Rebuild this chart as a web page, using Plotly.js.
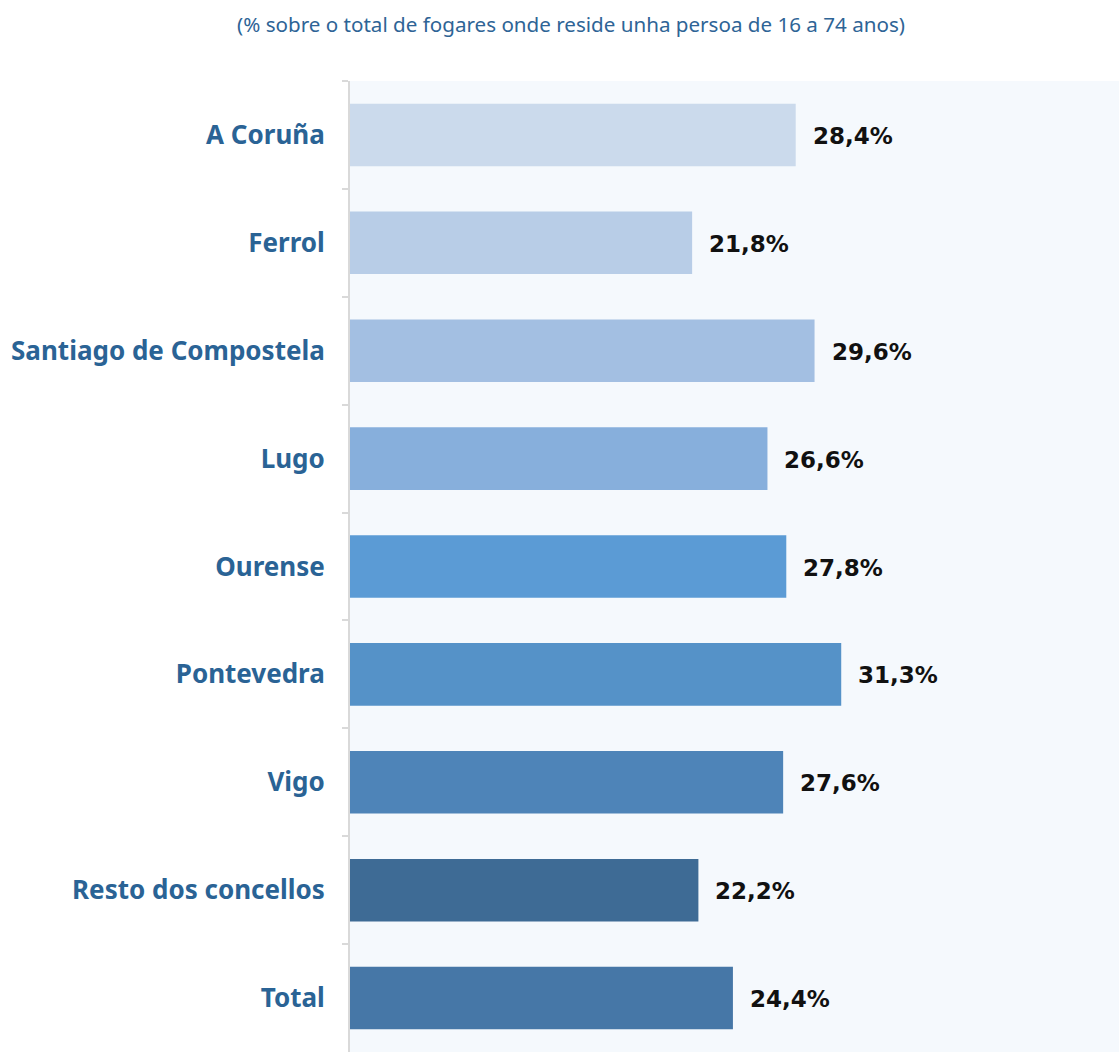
<!DOCTYPE html>
<html>
<head>
<meta charset="utf-8">
<script src="https://cdn.plot.ly/plotly-3.0.1.min.js"></script>
<style>html,body{margin:0;padding:0;background:#fff;}#chart{width:1119px;height:1052px;}</style>
</head>
<body>
<div id="chart"></div>
<script>
const categories = ["A Coruña", "Ferrol", "Santiago de Compostela", "Lugo", "Ourense", "Pontevedra", "Vigo", "Resto dos concellos", "Total"];
const values = [28.4, 21.8, 29.6, 26.6, 27.8, 31.3, 27.6, 22.2, 24.4];
const valueLabels = ["28,4%", "21,8%", "29,6%", "26,6%", "27,8%", "31,3%", "27,6%", "22,2%", "24,4%"];
const barColors = ["#cbdaec", "#b8cde7", "#a3bfe2", "#87afdc", "#5b9bd5", "#5592c8", "#4e84b8", "#3e6b95", "#4677a7"];
const subtitle = "(% sobre o total de fogares onde reside unha persoa de 16 a 74 anos)";

const FONT = "Noto Sans, Open Sans, DejaVu Sans, sans-serif";
const LABEL_FONT = "DejaVu Sans, Noto Sans, sans-serif";

const trace = {
  type: "bar",
  orientation: "h",
  y: categories,
  x: values,
  marker: {color: barColors, line: {width: 0}},
  hoverinfo: "none"
};

const annotations = categories.map((c, i) => ({
  x: values[i], y: c, xref: "x", yref: "y",
  text: valueLabels[i], showarrow: false,
  xanchor: "left", yanchor: "middle", xshift: 15, yshift: -1,
  font: {family: LABEL_FONT, size: 23, color: "#111111", weight: "bold"}
}));

annotations.push({
  text: subtitle, xref: "paper", yref: "paper",
  x: 0.287, y: 1, yshift: 57, xanchor: "center", yanchor: "middle",
  showarrow: false,
  font: {family: FONT, size: 20.6, color: "#2e6496"}
});

const layout = {
  width: 1119, height: 1052,
  margin: {l: 350, r: 0, t: 81, b: 0, pad: 0},
  paper_bgcolor: "#ffffff",
  plot_bgcolor: "#f5f9fd",
  bargap: 0.42,
  showlegend: false,
  xaxis: {range: [0, 49], visible: false, fixedrange: true},
  yaxis: {
    autorange: "reversed",
    type: "category",
    showline: true, linecolor: "#d9d9d9", linewidth: 2,
    ticks: "outside", ticklen: 6, tickcolor: "#d9d9d9", tickwidth: 2,
    tickson: "boundaries",
    showgrid: false, zeroline: false,
    ticklabelstandoff: 18,
    tickfont: {family: FONT, size: 26, color: "#2a6395", weight: "bold"}
  },
  annotations: annotations
};

Plotly.newPlot("chart", [trace], layout, {displayModeBar: false, staticPlot: true});
</script>
</body>
</html>
